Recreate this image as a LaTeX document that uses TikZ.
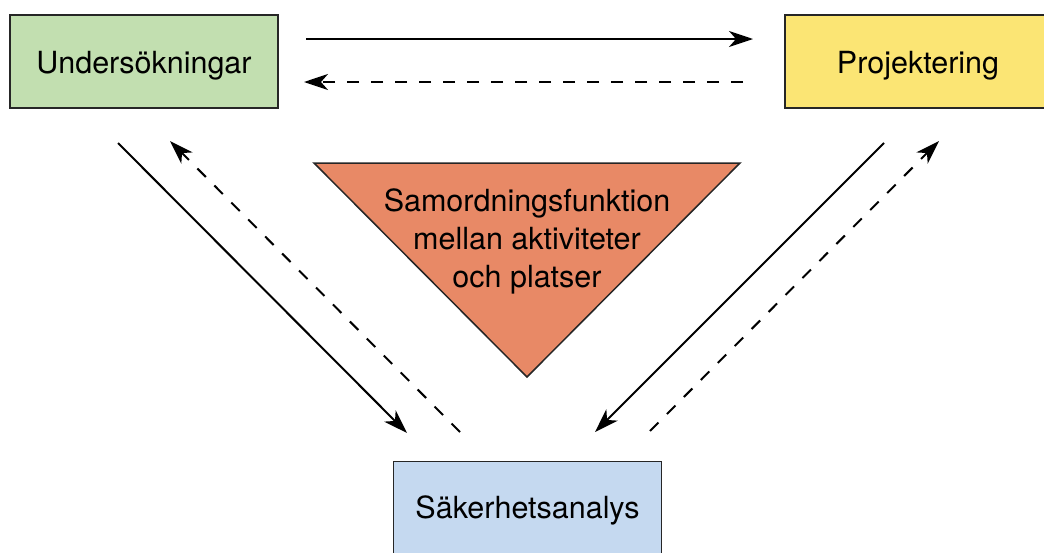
\documentclass[tikz,border=0pt]{standalone}
\usepackage{fontspec}
\setmainfont{TeX Gyre Heros}
\usetikzlibrary{arrows.meta}
\definecolor{boxgreen}{RGB}{194,223,176}
\definecolor{boxyellow}{RGB}{251,229,116}
\definecolor{boxblue}{RGB}{197,217,240}
\definecolor{triorange}{RGB}{232,137,102}
\begin{document}
\begin{tikzpicture}[x=1pt,y=-1pt,
  actbox/.style={draw=black!85,line width=1.5pt,inner sep=0pt,
    minimum width=268pt,minimum height=93pt,
    text height=23.6pt,text depth=0pt,
    font=\fontsize{30.5}{36}\selectfont},
  flow/.style={line width=2pt,-{Stealth[length=24pt,width=16pt,inset=7pt]}},
  backflow/.style={flow,dash pattern=on 12pt off 12pt}]
\useasboundingbox (0,0) rectangle (1044,552);
% activities
\node[actbox,fill=boxgreen]  (und) at (144,61.5)  {Undersökningar};
\node[actbox,fill=boxyellow,minimum width=266pt,text width=266pt,align=center] (proj) at (918,61.5) {Projektering};
\node[actbox,fill=boxblue,text height=20.6pt] (sak) at (527.5,508) {Säkerhetsanalys};
% coordinating function
\coordinate (t1) at (314,163);
\coordinate (t2) at (740,163);
\coordinate (t3) at (527,377);
\draw[fill=triorange,draw=black!85,line width=1.5pt] (t1) -- (t2) -- (t3) -- cycle;
\node[align=center,font=\fontsize{30.5}{38.4}\selectfont] (samord) at (527,241.5)
  {Samordningsfunktion\\mellan aktiviteter\\och platser};
% connector end points
\coordinate (a1) at (306,39);   \coordinate (a2) at (753,39);
\coordinate (b1) at (743,82);   \coordinate (b2) at (304,82);
\coordinate (c1) at (118,143);  \coordinate (c2) at (407,433);
\coordinate (d1) at (460,432);  \coordinate (d2) at (170,141);
\coordinate (e1) at (884,143);  \coordinate (e2) at (595,432);
\coordinate (f1) at (650,431);  \coordinate (f2) at (939,141);
\draw[flow] (a1) -- (a2);
\draw[backflow] (b1) -- (b2);
\draw[flow] (c1) -- (c2);
\draw[backflow] (d1) -- (d2);
\draw[flow] (e1) -- (e2);
\draw[backflow] (f1) -- (f2);
\end{tikzpicture}
\end{document}
